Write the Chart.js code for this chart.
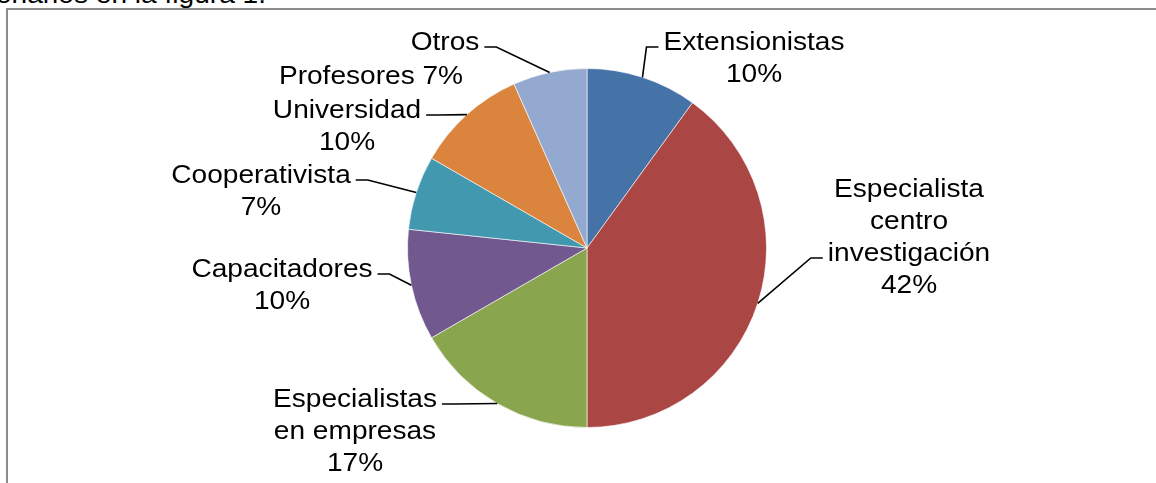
<!DOCTYPE html>
<html>
<head>
<meta charset="utf-8">
<script src="https://cdn.jsdelivr.net/npm/chart.js@4/dist/chart.umd.min.js"></script>
<style>
  body { margin: 0; background: #fff; overflow: hidden; }
  #wrap { position: relative; width: 1156px; height: 483px; overflow: hidden; }
  #frame { position: absolute; left: 6px; top: 8px; width: 1200px; height: 500px; border: 2px solid #8c8c8c; box-sizing: border-box; }
  #topText { position: absolute; right: calc(1156px - 266px); top: -21px; font: 26px "Liberation Sans", Arial, sans-serif; color: #000; white-space: nowrap; transform: scaleX(1.08); transform-origin: right; }
  canvas { position: absolute; left: 0; top: 0; }
</style>
</head>
<body>
<div id="wrap">
  <div id="topText">cuestionarios en la figura 1.</div>
  <div id="frame"></div>
  <canvas id="pieChart" width="1156" height="483"></canvas>
</div>
<script>
// Data
const categories = ['Extensionistas', 'Especialista centro investigación', 'Especialistas en empresas', 'Capacitadores', 'Cooperativista', 'Universidad', 'Otros'];
const counts = [3, 12, 5, 3, 2, 3, 2];
const sliceColors = ['#4572A7', '#AA4643', '#89A54E', '#71588F', '#4198AF', '#DB843D', '#93A9CF'];

// Label text as shown on the chart
const labelLines = [
  ['Extensionistas', '10%'],
  ['Especialista', 'centro', 'investigación', '42%'],
  ['Especialistas', 'en empresas', '17%'],
  ['Capacitadores', '10%'],
  ['Cooperativista', '7%'],
  ['Universidad', '10%'],
  ['Otros']
];
const extraLabel = ['Profesores 7%'];

// label placement relative to the pie center (text center x, first baseline y)
const labelLayout = [
  { dx: 167, dy: -198, side: 'left', line: 0 },
  { dx: 322, dy: -51, side: 'left', line: 2 },
  { dx: -232, dy: 159, side: 'right', line: 0 },
  { dx: -305, dy: 29, side: 'right', line: 0 },
  { dx: -326, dy: -65, side: 'right', line: 0 },
  { dx: -240, dy: -130, side: 'right', line: 0 },
  { dx: -142, dy: -198, side: 'right', line: 0 }
];
const extraLayout = { dx: -216, dy: -164 };

const FONT = '26px "Liberation Sans", Arial, sans-serif';
const STRETCH = 1.08;
const LINE_H = 32;

function drawLines(ctx, lines, x, y) {
  lines.forEach((txt, k) => {
    ctx.save();
    ctx.translate(x, y + k * LINE_H);
    ctx.scale(STRETCH, 1);
    ctx.fillText(txt, 0, 0);
    ctx.restore();
  });
}

const pieLabels = {
  id: 'pieLabels',
  afterDraw(chart) {
    const ctx = chart.ctx;
    const meta = chart.getDatasetMeta(0);
    ctx.save();
    ctx.font = FONT;
    ctx.fillStyle = '#000';
    ctx.textAlign = 'center';
    ctx.textBaseline = 'alphabetic';
    ctx.strokeStyle = '#000';
    ctx.lineWidth = 1.6;

    meta.data.forEach((arc, i) => {
      const lay = labelLayout[i];
      const lines = labelLines[i];
      const tx = arc.x + lay.dx;
      const ty = arc.y + lay.dy;
      drawLines(ctx, lines, tx, ty);

      // leader line
      const w = ctx.measureText(lines[lay.line]).width * STRETCH;
      const ly = Math.round(ty + lay.line * LINE_H - 3);
      const dir = lay.side === 'left' ? -1 : 1;
      const sx = tx + dir * (w / 2 + 5);
      const bx = sx + dir * 12;
      const mid = (arc.startAngle + arc.endAngle) / 2;
      const px = arc.x + Math.cos(mid) * arc.outerRadius;
      const py = arc.y + Math.sin(mid) * arc.outerRadius;
      ctx.beginPath();
      ctx.moveTo(sx, ly);
      ctx.lineTo(bx, ly);
      ctx.lineTo(px, py);
      ctx.stroke();
    });

    const c = meta.data[0];
    drawLines(ctx, extraLabel, c.x + extraLayout.dx, c.y + extraLayout.dy);
    ctx.restore();
  }
};

const ctx = document.getElementById('pieChart').getContext('2d');
const pieChart = new Chart(ctx, {
  type: 'pie',
  data: {
    labels: categories,
    datasets: [{
      data: counts,
      backgroundColor: sliceColors,
      borderColor: 'rgba(255,255,255,0.6)',
      borderWidth: 1
    }]
  },
  options: {
    responsive: false,
    animation: false,
    layout: { padding: { left: 18, right: 0, top: 68, bottom: 55 } },
    plugins: {
      legend: { display: false },
      tooltip: { enabled: false }
    }
  },
  plugins: [pieLabels]
});
</script>
</body>
</html>
